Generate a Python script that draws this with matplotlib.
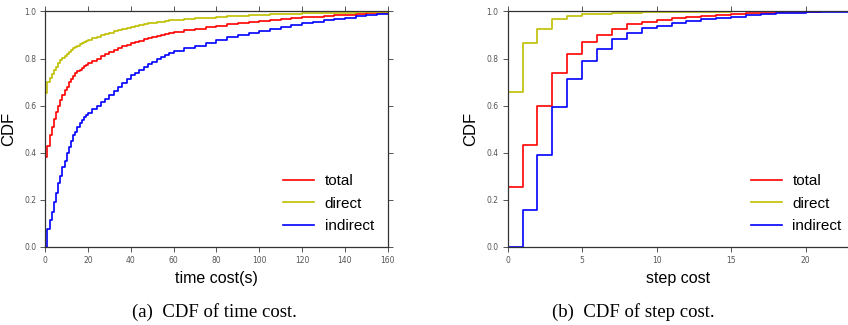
import numpy as np
from matplotlib import pyplot as plt

# time cost (s) sample points and CDF values
time_s = list(range(0, 21)) + list(range(22, 61, 2)) + list(range(65, 161, 5))

time_total = [0.38, 0.43, 0.475, 0.51, 0.545, 0.575, 0.60, 0.625, 0.645, 0.665,
              0.68, 0.70, 0.713, 0.727, 0.737, 0.745, 0.753, 0.76, 0.767, 0.774,
              0.78,
              0.79, 0.80, 0.81, 0.82, 0.829, 0.837, 0.844, 0.851, 0.858, 0.865,
              0.871, 0.876, 0.882, 0.887, 0.892, 0.896, 0.900, 0.904, 0.908, 0.912,
              0.92, 0.927, 0.934, 0.94, 0.945, 0.951, 0.956, 0.96, 0.964, 0.968,
              0.972, 0.975, 0.978, 0.981, 0.984, 0.986, 0.989, 0.991, 0.993, 0.995]

time_direct = [0.655, 0.70, 0.717, 0.735, 0.75, 0.765, 0.78, 0.792, 0.803, 0.812,
               0.82, 0.828, 0.836, 0.843, 0.85, 0.855, 0.86, 0.865, 0.869, 0.874,
               0.878,
               0.885, 0.892, 0.898, 0.904, 0.91, 0.915, 0.92, 0.925, 0.93, 0.935,
               0.939, 0.942, 0.946, 0.949, 0.952, 0.955, 0.957, 0.96, 0.962, 0.964,
               0.967, 0.97, 0.974, 0.977, 0.98, 0.982, 0.984, 0.986, 0.988, 0.989,
               0.99, 0.991, 0.992, 0.993, 0.994, 0.995, 0.996, 0.997, 0.998, 0.998]

time_indirect = [0.0, 0.075, 0.115, 0.15, 0.19, 0.23, 0.27, 0.30, 0.34, 0.366,
                 0.40, 0.425, 0.45, 0.475, 0.49, 0.51, 0.525, 0.54, 0.55, 0.56,
                 0.57,
                 0.585, 0.60, 0.615, 0.63, 0.645, 0.663, 0.68, 0.697, 0.713, 0.728,
                 0.74, 0.752, 0.764, 0.775, 0.786, 0.796, 0.806, 0.816, 0.824, 0.83,
                 0.843, 0.855, 0.867, 0.878, 0.89, 0.90, 0.91, 0.918, 0.926, 0.934,
                 0.942, 0.949, 0.956, 0.962, 0.968, 0.974, 0.979, 0.983, 0.987, 0.99]

# step cost
steps = list(range(0, 24))
step_total = [0.256, 0.431, 0.598, 0.74, 0.817, 0.868, 0.90, 0.926, 0.945, 0.955,
              0.963, 0.97, 0.976, 0.981, 0.985, 0.988, 0.991, 0.994, 0.996, 0.998,
              0.999, 1.0, 1.0, 1.0]
step_direct = [0.656, 0.864, 0.925, 0.966, 0.98, 0.987, 0.99, 0.993, 0.995, 0.997,
               0.998, 0.998, 0.999, 0.999, 0.999, 1.0, 1.0, 1.0, 1.0, 1.0,
               1.0, 1.0, 1.0, 1.0]
step_indirect = [0.0, 0.157, 0.389, 0.593, 0.711, 0.79, 0.841, 0.884, 0.91, 0.928,
                 0.94, 0.952, 0.96, 0.967, 0.973, 0.978, 0.983, 0.987, 0.991, 0.994,
                 0.996, 0.998, 0.999, 1.0]

labels = ["total", "direct", "indirect"]
colors = ["r", "y", "b"]
captions = ["(a)  CDF of time cost.", "(b)  CDF of step cost."]

plt.rcParams['font.family'] = ['Liberation Sans', 'DejaVu Sans']

fig = plt.figure(figsize=(8.48, 3.25), dpi=100)
ax1 = fig.add_axes([0.0534, 0.24, 0.4038, 0.725])
ax2 = fig.add_axes([0.5987, 0.24, 0.4013, 0.725])


def draw(ax, x, series, xmax, xticks, xlabel, right=True):
    for vals, lab, col in zip(series, labels, colors):
        ax.step(np.r_[x[0], x], np.r_[0, vals], where='post', color=col,
                lw=1.2, label=lab)
    ax.set_xlim(0, xmax)
    ax.set_ylim(0, 1.0)
    ax.set_xticks(xticks)
    ax.set_yticks([0.0, 0.2, 0.4, 0.6, 0.8, 1.0])
    ax.tick_params(direction='out', length=3.5, width=0.7, colors='#555555',
                   labelsize=5.5, top=True, right=right, pad=3)
    for lab in ax.get_xticklabels() + ax.get_yticklabels():
        lab.set_family('DejaVu Sans')
    for sp in ax.spines.values():
        sp.set_color('#333333')
        sp.set_linewidth(0.9)
    ax.spines['right'].set_visible(right)
    ax.set_ylabel("CDF", fontsize=12, labelpad=6)
    ax.set_xlabel(xlabel, fontsize=11.5, labelpad=4)


draw(ax1, time_s, [time_total, time_direct, time_indirect], 160,
     range(0, 161, 20), "time cost(s)")
# the right panel is cut by the picture edge at about step 22.8
draw(ax2, steps, [step_total, step_direct, step_indirect], 22.84,
     range(0, 21, 5), "step cost", right=False)

ax1.legend(loc='lower right', frameon=False, fontsize=11, handlelength=2.0,
           handletextpad=0.7, bbox_to_anchor=(1.0, 0.0), labelspacing=0.55)
ax2.legend(loc='lower left', frameon=False, fontsize=11, handlelength=2.0,
           handletextpad=0.7, bbox_to_anchor=(0.675, 0.0), labelspacing=0.55)

fig.text(0.253, 0.04, captions[0], ha='center', va='center',
         family='Liberation Serif', fontsize=13.5)
fig.text(0.747, 0.04, captions[1], ha='center', va='center',
         family='Liberation Serif', fontsize=13.5)

fig.savefig("out.png", dpi=100)
